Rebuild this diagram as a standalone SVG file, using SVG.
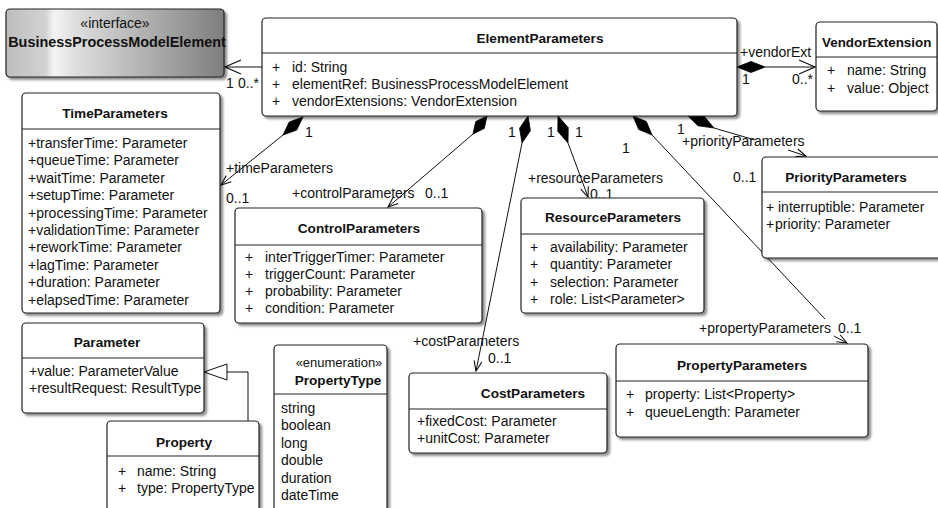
<svg xmlns="http://www.w3.org/2000/svg" width="938" height="508" viewBox="0 0 938 508">
  <style>
    text { font-family: "Liberation Sans", Arial, sans-serif; font-size: 14px; fill: #111; }
    .t { font-weight: bold; font-size: 13.6px; text-anchor: middle; }
    .m { text-anchor: middle; }
    .box { fill: #fff; stroke: #222; stroke-width: 1.2; filter: url(#sh); }
    .sep { stroke: #222; stroke-width: 1.2; }
    .edge { fill: none; stroke: #111; stroke-width: 1; }
    .dia { fill: #000; stroke: #000; stroke-width: 0.8; }
  </style>
  <defs>
    <filter id="sh" x="-5%" y="-5%" width="115%" height="120%">
      <feDropShadow dx="2.5" dy="2.5" stdDeviation="1" flood-color="#000" flood-opacity="0.45"/>
    </filter>
    <linearGradient id="iface" x1="0" y1="0" x2="1" y2="0">
      <stop offset="0" stop-color="#bdbdbd"/>
      <stop offset="0.18" stop-color="#d2d2d2"/>
      <stop offset="0.22" stop-color="#f4f4f4"/>
      <stop offset="0.32" stop-color="#dedede"/>
      <stop offset="1" stop-color="#7e7e7e"/>
    </linearGradient>
    <marker id="big" markerUnits="userSpaceOnUse" markerWidth="18" markerHeight="16" viewBox="0 0 18 16" refX="17" refY="8" orient="auto">
      <path d="M1,1 L17,8 L1,15" fill="none" stroke="#111" stroke-width="1.1"/>
    </marker>
    <marker id="small" markerUnits="userSpaceOnUse" markerWidth="12" markerHeight="10" viewBox="0 0 12 10" refX="11" refY="5" orient="auto">
      <path d="M1,1 L11,5 L1,9" fill="none" stroke="#111" stroke-width="1.1"/>
    </marker>
  </defs>

  <rect width="938" height="508" fill="#fff"/>

  <!-- associations -->
  <g id="connectors">
    <!-- elementRef -->
    <line class="edge" x1="262" y1="67" x2="225" y2="67" marker-end="url(#big)"/>
    <text x="226" y="88">1</text>
    <text x="238" y="88">0..*</text>
    <!-- vendorExtensions -->
    <line class="edge" x1="765" y1="67" x2="815" y2="67" marker-end="url(#big)"/>
    <polygon class="dia" points="737,67 751,61.5 765,67 751,72.5"/>
    <text x="740" y="57">+vendorExt</text>
    <text x="742" y="84">1</text>
    <text x="792" y="84">0..*</text>
    <!-- timeParameters -->
    <line class="edge" x1="283" y1="135" x2="221" y2="185" marker-end="url(#small)"/>
    <polygon class="dia" points="303,117 296.7,130.1 283,135 289.3,121.9"/>
    <text x="305" y="137">1</text>
    <text x="226" y="173">+timeParameters</text>
    <text x="226" y="203">0..1</text>
    <!-- controlParameters -->
    <line class="edge" x1="473" y1="134" x2="388" y2="207" marker-end="url(#small)"/>
    <polygon class="dia" points="487,116 484.3,128.4 473,134 475.7,121.6"/>
    <text x="292" y="198">+controlParameters</text>
    <text x="425" y="198">0..1</text>
    <!-- costParameters -->
    <line class="edge" x1="522" y1="143" x2="476" y2="371" marker-end="url(#small)"/>
    <polygon class="dia" points="528,116 530.4,130.7 522,143 519.6,128.3"/>
    <text x="508" y="137">1</text>
    <text x="413" y="346">+costParameters</text>
    <text x="488" y="363">0..1</text>
    <!-- resourceParameters -->
    <line class="edge" x1="568" y1="143" x2="588" y2="197" marker-end="url(#small)"/>
    <polygon class="dia" points="558,116 568.2,127.6 568,143 557.8,131.4"/>
    <text x="547" y="137">1</text>
    <text x="575" y="137">1</text>
    <text x="528" y="183">+resourceParameters</text>
    <text x="590" y="199">0..1</text>
    <!-- propertyParameters -->
    <line class="edge" x1="652" y1="135" x2="825" y2="319"/>
    <line class="edge" x1="834" y1="336" x2="847" y2="343" marker-end="url(#small)"/>
    <polygon class="dia" points="633,116 646.4,121.6 652,135 638.6,129.4"/>
    <text x="622" y="153">1</text>
    <text x="699" y="333">+propertyParameters</text>
    <text x="838" y="333">0..1</text>
    <!-- priorityParameters -->
    <line class="edge" x1="714" y1="128" x2="755" y2="140"/>
    <line class="edge" x1="788" y1="150" x2="806" y2="156" marker-end="url(#small)"/>
    <polygon class="dia" points="688,116 704,116 714,128 698,125.8"/>
    <text x="677" y="134">1</text>
    <text x="682" y="146">+priorityParameters</text>
    <text x="733" y="182">0..1</text>
    <!-- Property specializes Parameter -->
    <polyline class="edge" points="248,421 248,372 227,372"/>
    <polygon points="204,372 227,364 227,380" fill="#fff" stroke="#111" stroke-width="1"/>
  </g>

  <g id="BusinessProcessModelElement">
    <rect x="6" y="9" width="218" height="68" rx="4" fill="url(#iface)" stroke="#222" stroke-width="1.2" filter="url(#sh)"/>
    <text class="m" x="115" y="28">«interface»</text>
    <text class="t" x="117" y="47" style="font-size:14.4px">BusinessProcessModelElement</text>
  </g>

  <g id="ElementParameters">
    <rect class="box" x="262" y="18" width="475" height="98" rx="4"/>
    <line class="sep" x1="262" y1="53" x2="737" y2="53"/>
    <text class="t" x="540" y="43">ElementParameters</text>
    <text x="272" y="72">+</text><text x="292" y="72">id: String</text>
    <text x="272" y="89">+</text><text x="292" y="89">elementRef: BusinessProcessModelElement</text>
    <text x="272" y="106">+</text><text x="292" y="106">vendorExtensions: VendorExtension</text>
  </g>

  <g id="VendorExtension">
    <rect class="box" x="816" y="22" width="121" height="89" rx="4"/>
    <line class="sep" x1="816" y1="57" x2="937" y2="57"/>
    <text x="822" y="47" font-weight="bold" style="font-size:13.4px">VendorExtension</text>
    <text x="827" y="75">+</text><text x="847" y="75">name: String</text>
    <text x="827" y="93">+</text><text x="847" y="93">value: Object</text>
  </g>

  <g id="TimeParameters">
    <rect class="box" x="22" y="93" width="198" height="220" rx="4"/>
    <line class="sep" x1="22" y1="129" x2="220" y2="129"/>
    <text class="t" x="115" y="118">TimeParameters</text>
    <text x="28" y="148">+transferTime: Parameter</text>
    <text x="28" y="165.4">+queueTime: Parameter</text>
    <text x="28" y="182.8">+waitTime: Parameter</text>
    <text x="28" y="200.2">+setupTime: Parameter</text>
    <text x="28" y="217.6">+processingTime: Parameter</text>
    <text x="28" y="235">+validationTime: Parameter</text>
    <text x="28" y="252.4">+reworkTime: Parameter</text>
    <text x="28" y="269.8">+lagTime: Parameter</text>
    <text x="28" y="287.2">+duration: Parameter</text>
    <text x="28" y="304.6">+elapsedTime: Parameter</text>
  </g>

  <g id="ControlParameters">
    <rect class="box" x="235" y="208" width="247" height="115" rx="4"/>
    <line class="sep" x1="235" y1="245" x2="482" y2="245"/>
    <text class="t" x="359" y="233">ControlParameters</text>
    <text x="245" y="262">+</text><text x="265" y="262">interTriggerTimer: Parameter</text>
    <text x="245" y="279">+</text><text x="265" y="279">triggerCount: Parameter</text>
    <text x="245" y="296">+</text><text x="265" y="296">probability: Parameter</text>
    <text x="245" y="313">+</text><text x="265" y="313">condition: Parameter</text>
  </g>

  <g id="ResourceParameters">
    <rect class="box" x="521" y="198" width="183" height="115" rx="4"/>
    <line class="sep" x1="521" y1="234" x2="704" y2="234"/>
    <text class="t" x="613" y="222">ResourceParameters</text>
    <text x="530" y="252">+</text><text x="550" y="252">availability: Parameter</text>
    <text x="530" y="269">+</text><text x="550" y="269">quantity: Parameter</text>
    <text x="530" y="287">+</text><text x="550" y="287">selection: Parameter</text>
    <text x="530" y="304">+</text><text x="550" y="304">role: List&lt;Parameter&gt;</text>
  </g>

  <g id="PriorityParameters">
    <rect class="box" x="762" y="157" width="180" height="101" rx="4"/>
    <line class="sep" x1="762" y1="192" x2="938" y2="192"/>
    <text class="t" x="846" y="182">PriorityParameters</text>
    <text x="766" y="212">+</text><text x="778" y="212">interruptible: Parameter</text>
    <text x="766" y="229">+</text><text x="775" y="229">priority: Parameter</text>
  </g>

  <g id="Parameter">
    <rect class="box" x="22" y="323" width="182" height="90" rx="4"/>
    <line class="sep" x1="22" y1="358" x2="204" y2="358"/>
    <text class="t" x="107" y="347">Parameter</text>
    <text x="29" y="376">+value: ParameterValue</text>
    <text x="29" y="393">+resultRequest: ResultType</text>
  </g>

  <g id="Property">
    <rect class="box" x="107" y="421" width="152" height="100" rx="4"/>
    <line class="sep" x1="107" y1="456" x2="259" y2="456"/>
    <text class="t" x="184" y="447">Property</text>
    <text x="118" y="476">+</text><text x="137" y="476">name: String</text>
    <text x="118" y="493">+</text><text x="137" y="493">type: PropertyType</text>
  </g>

  <g id="PropertyType">
    <rect class="box" x="274" y="345" width="113" height="175" rx="4"/>
    <line class="sep" x1="274" y1="394" x2="387" y2="394"/>
    <text class="m" x="339" y="367" style="font-size:13px">«enumeration»</text>
    <text class="t" x="338" y="385">PropertyType</text>
    <text x="281" y="413">string</text>
    <text x="281" y="430.4">boolean</text>
    <text x="281" y="447.8">long</text>
    <text x="281" y="465.2">double</text>
    <text x="281" y="482.6">duration</text>
    <text x="281" y="500">dateTime</text>
  </g>

  <g id="CostParameters">
    <rect class="box" x="409" y="373" width="198" height="80" rx="4"/>
    <line class="sep" x1="409" y1="409" x2="607" y2="409"/>
    <text class="t" x="533" y="398">CostParameters</text>
    <text x="417" y="426">+fixedCost: Parameter</text>
    <text x="417" y="443">+unitCost: Parameter</text>
  </g>

  <g id="PropertyParameters">
    <rect class="box" x="616" y="344" width="252" height="93" rx="4"/>
    <line class="sep" x1="616" y1="381" x2="868" y2="381"/>
    <text class="t" x="742" y="370">PropertyParameters</text>
    <text x="626" y="399">+</text><text x="645" y="399">property: List&lt;Property&gt;</text>
    <text x="626" y="417">+</text><text x="645" y="417">queueLength: Parameter</text>
  </g>
</svg>
